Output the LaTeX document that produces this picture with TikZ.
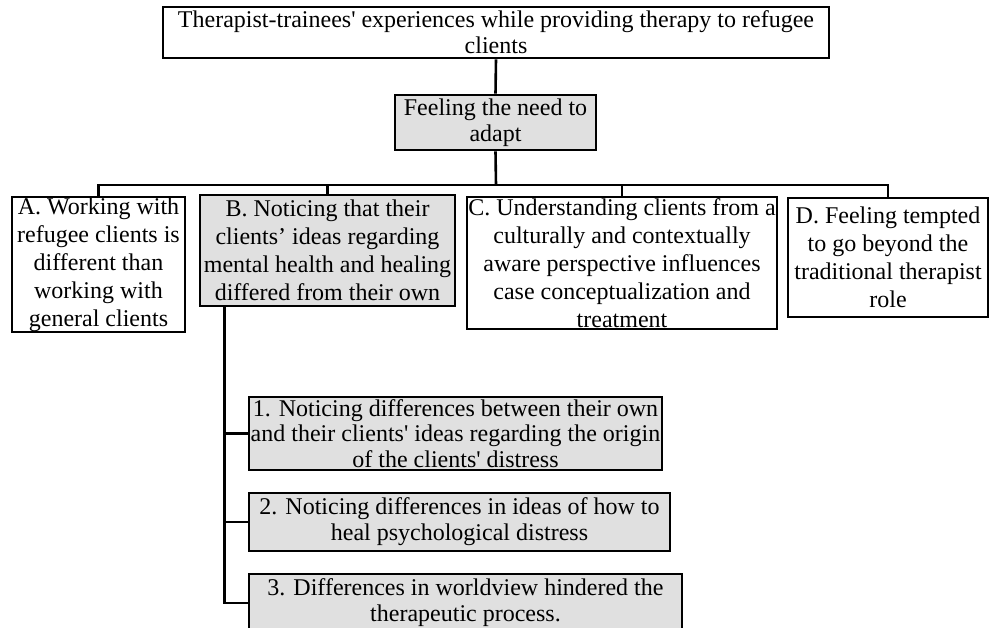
\documentclass[tikz,border=0pt]{standalone}
\usepackage{fontspec}
\setmainfont{Liberation Serif}
\definecolor{boxgray}{RGB}{224,224,224}
\newcommand{\sq}{\textquotesingle}
\begin{document}
\begin{tikzpicture}[x=1pt,y=-1pt,
  box/.style={draw=black, line width=2.6pt, fill=white, inner sep=0pt},
  gbox/.style={box, fill=boxgray},
  txt/.style={align=center, inner sep=0pt, font=\fontsize{24}{28}\selectfont},
  txts/.style={align=center, inner sep=0pt, font=\fontsize{24}{25.8}\selectfont},
  wire/.style={line width=2.6pt}]
\useasboundingbox (0,0) rectangle (989,628);

% boxes
\node[box,  minimum width=666pt, minimum height=51pt]  (top) at (496,32.5) {};
\node[gbox, minimum width=201pt, minimum height=55pt]  (mid) at (495.5,122.5) {};
\node[box,  minimum width=173pt, minimum height=135pt] (A) at (98.5,264.5) {};
\node[gbox, minimum width=255pt, minimum height=111pt] (B) at (327.5,250.5) {};
\node[box,  minimum width=310pt, minimum height=132pt] (C) at (622,263) {};
\node[box,  minimum width=200pt, minimum height=119pt] (D) at (888,257.5) {};
\node[gbox, minimum width=413pt, minimum height=73pt]  (s1) at (455.5,433.5) {};
\node[gbox, minimum width=421pt, minimum height=58pt]  (s2) at (459.5,522) {};
\node[gbox, minimum width=433pt, minimum height=58pt]  (s3) at (465.5,603) {};

% texts
\node[txts] (ttop) at (top.center) {Therapist-trainees\sq{} experiences while providing therapy to refugee\\clients};
\node[txts] (tmid) at (mid.center) {Feeling the need to\\adapt};
\node[txt] (tA) at (A.center) {A. Working with\\refugee clients is\\different than\\working with\\general clients};
\node[txt] (tB) at (B.center) {B. Noticing that their\\clients’ ideas regarding\\mental health and healing\\differed from their own};
\node[txt] (tC) at (C.center) {C. Understanding clients from a\\culturally and contextually\\aware perspective influences\\case conceptualization and\\treatment};
\node[txt] (tD) at (D.center) {D. Feeling tempted\\to go beyond the\\traditional therapist\\role};
\node[txts] (t1) at (s1.center) {1. Noticing differences between their own\\and their clients\sq{} ideas regarding the origin\\of the clients\sq{} distress};
\node[txts] (t2) at (s2.center) {2. Noticing differences in ideas of how to\\heal psychological distress};
\node[txts] (t3) at (s3.center) {3. Differences in worldview hindered the\\therapeutic process.};

% connectors
\coordinate (bus) at (496,185);
\draw[wire] (top.south) -- (mid.north);
\draw[wire] (mid.south) -- (bus);
\draw[wire] (bus) -| (A.north);
\draw[wire] (bus) -| (B.north);
\draw[wire] (bus) -| (C.north);
\draw[wire] (bus) -| (D.north);
\draw[wire] ([xshift=26pt]B.south west) |- (s1.west);
\draw[wire] ([xshift=26pt]B.south west) |- (s2.west);
\draw[wire] ([xshift=26pt]B.south west) |- (s3.west);
\end{tikzpicture}
\end{document}
